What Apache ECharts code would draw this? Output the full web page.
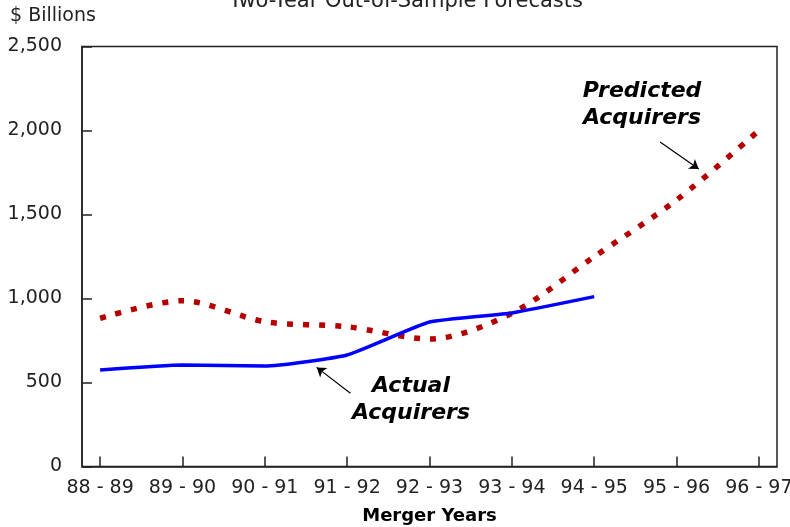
<!DOCTYPE html>
<html>
<head>
<meta charset="utf-8">
<script src="https://cdn.jsdelivr.net/npm/echarts@6/dist/echarts.min.js"></script>
<style>
html,body{margin:0;padding:0;background:#fff;}
#chart{width:790px;height:527px;}
</style>
</head>
<body>
<div id="chart"></div>
<script>
var years=['88 - 89','89 - 90','90 - 91','91 - 92','92 - 93','93 - 94','94 - 95','95 - 96','96 - 97'];
var actual=[574,604,598,664,860,914,1011];
var predicted=[882,987,862,832,759,912,1249,1586,2000];
var yTicks=[0,500,1000,1500,2000,2500];
// arrow ends, in axis units: [from, to]
var actualArrow=[[2.63,590],[3.04,436]];
var predictedArrow=[[6.80,1932],[7.27,1771]];

var font='DejaVu Sans';

function pairs(arr){
	var out=[];
	for(var i=0;i<arr.length;i++){
		out.push([i,arr[i]]);
	}
	return out;
}
var idx=[];
for(var i=0;i<years.length;i++){idx.push(i);}

var mychart=echarts.init(document.getElementById('chart'));
var option={
	animation:false,
	backgroundColor:'#fff',
	grid:{
		left:82,right:13,top:46.5,bottom:60.5,
		outerBoundsMode:'none',
		show:true,borderColor:'#222',borderWidth:1.5
	},
	xAxis:{
		type:'value',
		min:-0.22,max:8.22,
		name:'Merger Years',
		nameLocation:'middle',
		nameGap:41,
		nameTextStyle:{fontFamily:font,fontSize:18,fontWeight:'bold',color:'#000'},
		splitLine:{show:false},
		axisLine:{onZero:false,lineStyle:{color:'#222',width:1.5}},
		axisTick:{inside:true,length:10,customValues:idx,lineStyle:{color:'#222',width:1.5}},
		axisLabel:{
			customValues:idx,
			margin:12,
			fontFamily:font,fontSize:19,color:'#222',
			formatter:function(v){return years[Math.round(v)];}
		}
	},
	yAxis:{
		type:'value',
		min:0,max:2500,interval:500,
		splitLine:{show:false},
		axisLine:{show:true,onZero:false,lineStyle:{color:'#222',width:1.5}},
		axisTick:{show:true,inside:true,length:10,lineStyle:{color:'#222',width:1.5}},
		axisLabel:{
			margin:20,
			fontFamily:font,fontSize:19,color:'#222',
			formatter:function(v){return yTicks.indexOf(v)>=0?v.toLocaleString('en-US'):'';}
		}
	},
	series:[
		{
			name:'Predicted Acquirers',
			type:'line',
			data:pairs(predicted),
			smooth:0.3,
			symbol:'none',
			lineStyle:{color:'#b40000',width:5.5,type:[6,10]},
			z:2
		},
		{
			name:'Actual Acquirers',
			type:'line',
			data:pairs(actual),
			smooth:0.15,
			symbol:'none',
			lineStyle:{color:'#0000ff',width:3.5},
			z:3,
			markLine:{
				silent:true,
				symbolSize:9,
				label:{show:false},
				lineStyle:{color:'#000',width:1.2,type:'solid'},
				data:[
					[{coord:actualArrow[0],symbol:'arrow'},{coord:actualArrow[1],symbol:'none'}],
					[{coord:predictedArrow[0],symbol:'none'},{coord:predictedArrow[1],symbol:'arrow'}]
				]
			}
		}
	],
	graphic:[
		{type:'text',x:406,y:2,style:{text:'Two-Year Out-of-Sample Forecasts',font:'21px "DejaVu Sans"',fill:'#222',align:'center',verticalAlign:'middle'}},
		{type:'text',x:10,y:16.5,style:{text:'$ Billions',font:'19px "DejaVu Sans"',fill:'#222',align:'left',verticalAlign:'middle'}},
		{type:'text',x:642,y:78,style:{text:'Predicted\nAcquirers',font:'italic bold 22px "DejaVu Sans"',lineHeight:27,fill:'#000',align:'center',verticalAlign:'top'}},
		{type:'text',x:411,y:373,style:{text:'Actual\nAcquirers',font:'italic bold 22px "DejaVu Sans"',lineHeight:27,fill:'#000',align:'center',verticalAlign:'top'}}
	]
};
mychart.setOption(option);
</script>
</body>
</html>
